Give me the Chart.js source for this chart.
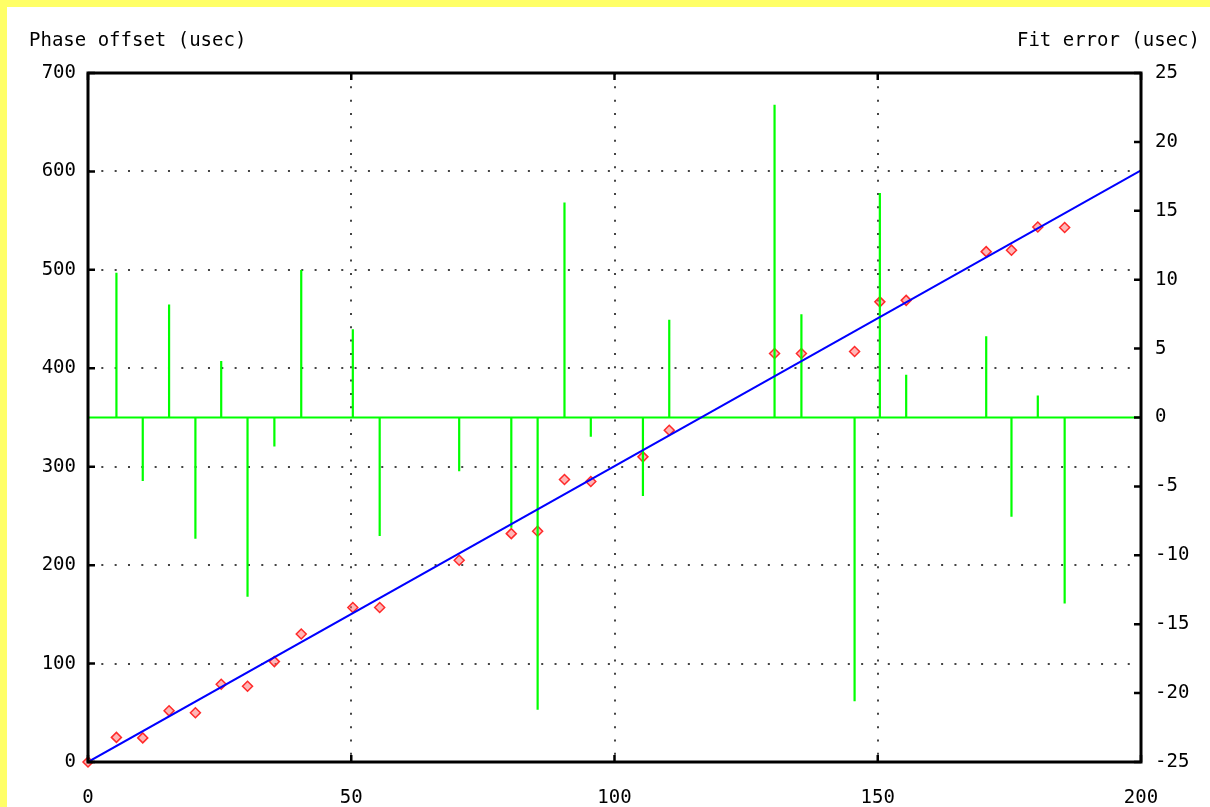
<!DOCTYPE html>
<html><head><meta charset="utf-8">
<script src="https://cdn.jsdelivr.net/npm/chart.js@4.4.1/dist/chart.umd.min.js"></script>
<style>
html,body{margin:0;padding:0;background:#ffff66;width:1210px;height:807px;overflow:hidden}
#wrap{position:absolute;left:7px;top:7px;width:1203px;height:800px;background:#fff}
canvas{display:block}
</style></head><body>
<div id="wrap"><canvas id="c" width="1203" height="800"></canvas></div>
<script>
// ---- data ----
const sampleX   = [0, 5.4, 10.4, 15.4, 20.4, 25.3, 30.3, 35.4, 40.5, 50.3, 55.4, 70.5, 80.4, 85.4, 90.5, 95.5, 105.4, 110.4, 130.4, 135.5, 145.6, 150.4, 155.4, 170.6, 175.4, 180.4, 185.5];
const phaseOffset = [0, 25, 24.5, 52, 50, 79, 77, 102, 130, 157, 157, 205, 232, 234.5, 287, 285, 310, 337, 415, 415, 417, 467.5, 469, 518.5, 520, 543.5, 543];
const fitError  = [0, 10.5, -4.6, 8.2, -8.8, 4.1, -13.0, -2.1, 10.7, 6.4, -8.6, -3.9, -8.0, -21.2, 15.6, -1.4, -5.7, 7.1, 22.7, 7.5, -20.6, 16.3, 3.1, 5.9, -7.2, 1.6, -13.5];
const fitLineX  = [0, 200];
const fitLineY  = [0, 601];
const xTickVals = [0, 50, 100, 150, 200];
const yLeftRange  = [0, 700, 100];
const yRightRange = [-25, 25, 5];
const leftTitle  = 'Phase offset (usec)';
const rightTitle = 'Fit error (usec)';

const FONT = '"DejaVu Sans Mono", monospace';

const redPts = sampleX.map((x, i) => ({x, y: phaseOffset[i]}));
const fitPts = fitLineX.map((x, i) => ({x, y: fitLineY[i]}));
const impulsePts = [];
sampleX.forEach((x, i) => {
  impulsePts.push({x, y: 0}, {x, y: fitError[i]}, {x, y: null});
});
const zeroPts = [{x: xTickVals[0], y: 0}, {x: xTickVals[xTickVals.length - 1], y: 0}];

const hiddenEdge = (min, max) => (ctx) => (ctx.tick && (ctx.tick.value === min || ctx.tick.value === max)) ? 'rgba(0,0,0,0)' : '#444';

const framePlugin = {
  id: 'frame',
  afterDatasetsDraw(chart) {
    const {ctx, chartArea: a, scales} = chart;
    ctx.save();
    ctx.strokeStyle = '#000';
    ctx.lineWidth = 3;
    ctx.strokeRect(a.left, a.top, a.right - a.left, a.bottom - a.top);
    ctx.lineWidth = 2.5;
    const L = 7;
    ctx.beginPath();
    scales.x.ticks.forEach(t => {
      const px = scales.x.getPixelForValue(t.value);
      ctx.moveTo(px, a.bottom); ctx.lineTo(px, a.bottom - L);
      ctx.moveTo(px, a.top); ctx.lineTo(px, a.top + L);
    });
    scales.y.ticks.forEach(t => {
      const py = scales.y.getPixelForValue(t.value);
      ctx.moveTo(a.left, py); ctx.lineTo(a.left + L, py);
    });
    scales.y2.ticks.forEach(t => {
      const py = scales.y2.getPixelForValue(t.value);
      ctx.moveTo(a.right, py); ctx.lineTo(a.right - L, py);
    });
    ctx.stroke();
    ctx.restore();
  },
  afterDraw(chart) {
    const {ctx} = chart;
    ctx.save();
    ctx.fillStyle = '#000';
    ctx.font = '19px ' + FONT;
    ctx.textBaseline = 'alphabetic';
    ctx.textAlign = 'left';
    ctx.fillText(leftTitle, 22, 39);
    ctx.textAlign = 'right';
    ctx.fillText(rightTitle, 1193, 39);
    ctx.restore();
  }
};

new Chart(document.getElementById('c'), {
  type: 'scatter',
  data: {
    datasets: [
      {
        label: 'phase', data: redPts, yAxisID: 'y', order: 3, clip: false,
        pointStyle: 'rectRot', pointRadius: 5, pointBorderWidth: 1.5,
        pointBorderColor: '#ff2a2a', pointBackgroundColor: 'rgba(255,110,110,0.5)', showLine: false
      },
      {
        label: 'zero', data: zeroPts, yAxisID: 'y2', order: 2, type: 'line',
        borderColor: '#00ff00', borderWidth: 2, pointRadius: 0, fill: false
      },
      {
        label: 'error', data: impulsePts, yAxisID: 'y2', order: 2, type: 'line', spanGaps: false,
        borderColor: '#00ff00', borderWidth: 2.2, pointRadius: 0, fill: false
      },
      {
        label: 'fit', data: fitPts, yAxisID: 'y', order: 1, type: 'line',
        borderColor: '#0000ff', borderWidth: 2, pointRadius: 0, fill: false
      }
    ]
  },
  options: {
    responsive: false,
    animation: false,
    events: [],
    layout: {padding: {top: 66, left: 0, right: 0, bottom: 0}},
    plugins: {legend: {display: false}, tooltip: {enabled: false}},
    scales: {
      x: {
        type: 'linear', position: 'bottom',
        min: xTickVals[0], max: xTickVals[xTickVals.length - 1],
        afterBuildTicks: s => { s.ticks = xTickVals.map(v => ({value: v})); },
        afterFit: s => { s.height = 45; },
        grid: {drawTicks: false, color: hiddenEdge(0, 200), lineWidth: 2},
        border: {display: false, dash: [2, 11.33]},
        ticks: {padding: 25, color: '#000', font: {family: FONT, size: 19}, maxRotation: 0}
      },
      y: {
        type: 'linear', position: 'left',
        min: yLeftRange[0], max: yLeftRange[1],
        ticks: {stepSize: yLeftRange[2], padding: 12, color: '#000', font: {family: FONT, size: 19}},
        afterFit: s => { s.width = 81; },
        grid: {drawTicks: false, color: hiddenEdge(0, 700), lineWidth: 2},
        border: {display: false, dash: [2, 11.33]}
      },
      y2: {
        type: 'linear', position: 'right',
        min: yRightRange[0], max: yRightRange[1],
        ticks: {stepSize: yRightRange[2], padding: 14, color: '#000', font: {family: FONT, size: 19}},
        afterFit: s => { s.width = 69; },
        grid: {display: false, drawTicks: false},
        border: {display: false}
      }
    }
  },
  plugins: [framePlugin]
});
</script>
</body></html>
